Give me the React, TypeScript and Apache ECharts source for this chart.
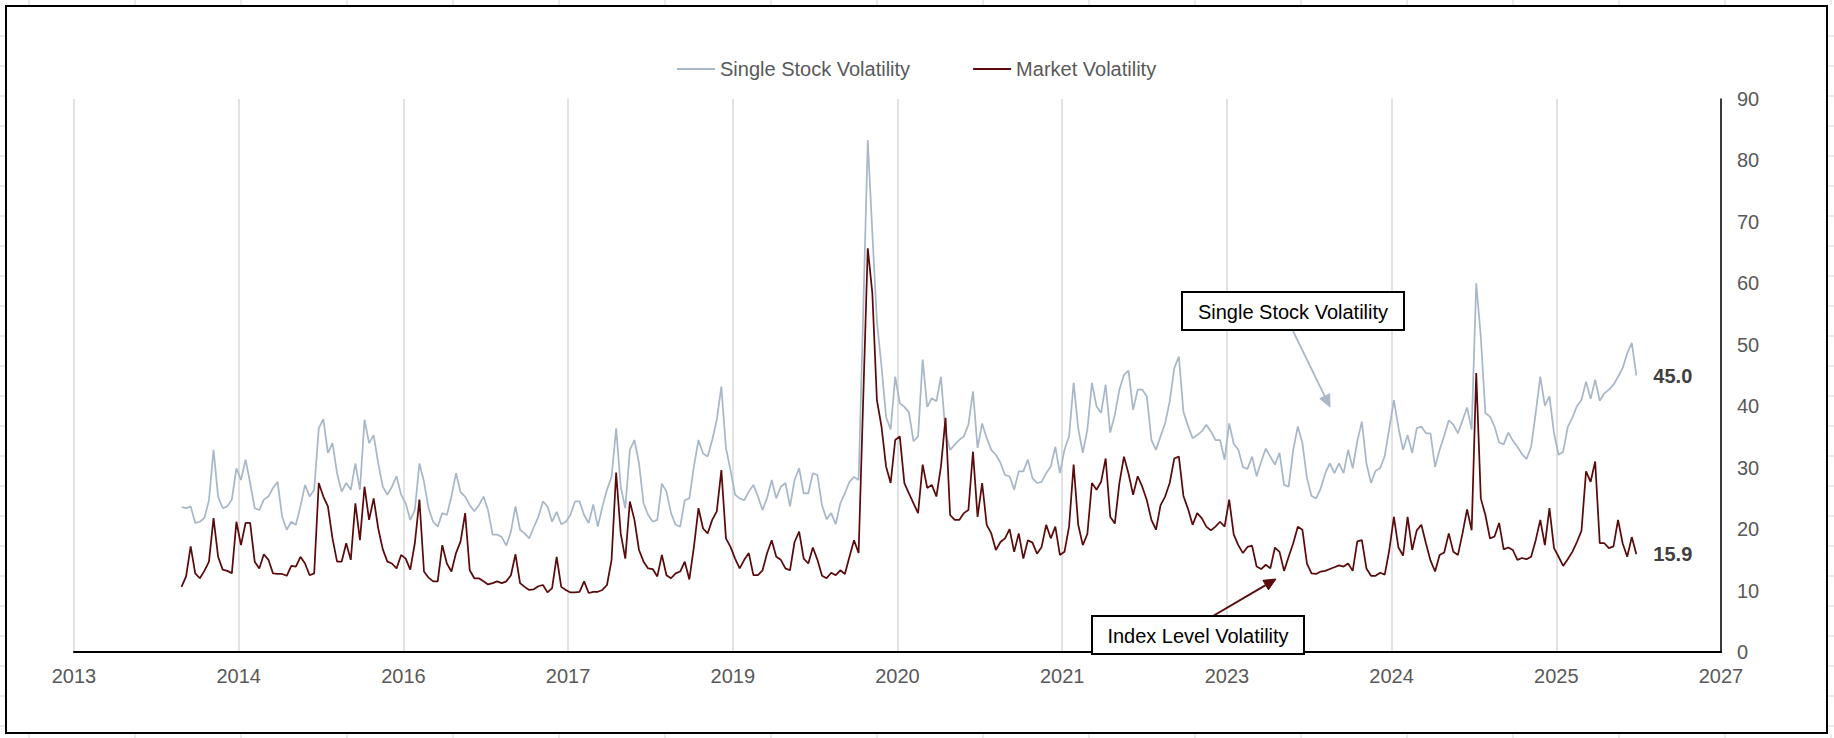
import React, { useEffect, useRef } from "react";
import * as echarts from "echarts";

// X axis: days from axis origin; one major unit = 504 days, labels as shown.
const X_TICK_LABELS = ["2013", "2014", "2016", "2017", "2019", "2020", "2021", "2023", "2024", "2025", "2027"];
const TICK_DAYS = 504;
const FIRST_DAY = 329;
const STEP_DAYS = 14;

const Y_MIN = 0;
const Y_MAX = 90;
const Y_STEP = 10;

const SERIES_NAMES = ["Single Stock Volatility", "Market Volatility"];

const SINGLE_STOCK_VOL = [
  23.6, 23.4, 23.7, 21.0, 21.2, 21.8, 24.7, 32.9, 25.3, 23.4,
  23.7, 24.8, 29.9, 28.0, 31.3, 27.5, 23.4, 23.1, 24.8, 25.3,
  26.7, 27.7, 22.0, 19.9, 21.2, 20.7, 23.7, 27.2, 25.3, 26.4,
  36.4, 37.9, 32.4, 34.0, 29.1, 26.1, 27.5, 26.4, 30.7, 26.4,
  37.8, 34.0, 35.3, 30.7, 26.9, 25.6, 26.9, 28.6, 25.6, 24.2,
  21.5, 23.1, 30.7, 27.7, 23.4, 21.2, 20.4, 22.6, 22.3, 25.3,
  29.1, 26.0, 25.3, 23.9, 22.9, 23.9, 25.3, 23.1, 19.1, 19.1,
  18.7, 17.3, 19.6, 23.7, 19.9, 19.3, 18.5, 20.3, 22.0, 24.5,
  23.7, 21.2, 22.8, 20.8, 21.2, 22.3, 24.5, 24.5, 22.3, 21.0,
  24.0, 20.4, 23.7, 26.4, 28.5, 36.4, 26.9, 23.4, 32.9, 34.5,
  30.7, 24.2, 22.3, 21.2, 21.5, 27.4, 26.1, 22.6, 20.7, 20.4,
  24.7, 25.0, 30.2, 34.5, 32.3, 31.8, 34.5, 37.8, 43.2, 33.2,
  29.6, 25.6, 25.0, 24.7, 26.1, 27.2, 25.3, 23.1, 25.1, 28.0,
  25.0, 26.9, 27.5, 23.7, 28.0, 29.9, 25.8, 25.8, 29.1, 28.8,
  23.9, 21.6, 22.6, 20.8, 24.2, 25.8, 27.7, 28.5, 28.0, 55.1,
  83.3, 68.2, 53.8, 46.5, 38.3, 36.2, 44.8, 40.5, 39.9, 39.0,
  34.3, 35.1, 47.6, 39.9, 41.3, 40.8, 44.8, 35.6, 32.9, 33.7,
  34.5, 35.1, 37.0, 42.4, 33.2, 37.2, 34.8, 32.9, 32.1, 30.8,
  28.8, 28.6, 26.4, 29.4, 29.4, 31.3, 28.3, 27.5, 27.7, 29.1,
  30.2, 33.4, 29.1, 32.9, 35.1, 43.8, 36.4, 32.4, 36.2, 43.8,
  40.0, 38.9, 43.5, 35.7, 38.6, 42.7, 45.1, 45.8, 39.4, 42.7,
  42.7, 41.6, 34.5, 32.9, 35.1, 37.2, 40.8, 46.2, 48.1, 39.1,
  36.8, 34.8, 35.3, 35.9, 37.0, 35.9, 34.5, 34.5, 31.3, 37.2,
  33.9, 32.9, 30.1, 29.8, 31.8, 28.6, 31.0, 33.1, 31.8, 30.5,
  32.4, 27.2, 26.9, 32.9, 36.7, 34.0, 28.3, 25.4, 25.0, 26.6,
  29.1, 30.7, 29.1, 30.7, 29.1, 32.9, 29.9, 34.3, 37.5, 30.7,
  27.5, 29.5, 29.9, 31.9, 36.4, 41.0, 36.5, 32.9, 35.3, 32.4,
  36.4, 36.7, 35.6, 35.6, 30.1, 32.9, 35.2, 37.7, 37.0, 35.6,
  37.7, 39.8, 36.2, 60.0, 51.3, 38.9, 38.3, 36.7, 34.1, 33.8,
  35.7, 34.4, 33.4, 32.2, 31.4, 33.4, 38.9, 44.8, 40.1, 41.6,
  35.6, 32.1, 32.6, 36.6, 38.1, 40.0, 41.0, 44.0, 41.2, 44.3,
  40.9, 42.1, 42.7, 43.5, 44.8, 46.2, 48.6, 50.3, 45.0,
];

const MARKET_VOL = [
  10.6, 12.3, 17.2, 12.8, 12.0, 13.2, 14.7, 21.8, 15.5, 13.4,
  13.2, 12.8, 21.2, 17.4, 21.0, 21.0, 14.7, 13.6, 15.9, 15.0,
  12.8, 12.7, 12.7, 12.4, 14.0, 13.9, 15.5, 14.4, 12.5, 12.8,
  27.5, 25.3, 23.7, 18.5, 14.7, 14.7, 17.7, 15.0, 24.2, 18.2,
  26.9, 21.5, 25.0, 20.1, 16.7, 14.7, 14.4, 13.6, 15.8, 15.2,
  13.4, 17.7, 24.8, 13.1, 12.1, 11.5, 11.5, 17.4, 14.4, 13.1,
  16.1, 18.0, 22.6, 13.3, 12.0, 12.0, 11.5, 11.0, 11.2, 11.5,
  11.2, 11.5, 12.5, 15.9, 11.2, 10.6, 10.1, 10.2, 10.7, 10.9,
  9.7, 10.4, 15.5, 10.6, 10.1, 9.7, 9.7, 9.8, 11.5, 9.6,
  9.8, 9.8, 10.1, 10.9, 15.0, 29.2, 19.3, 15.2, 24.5, 21.5,
  16.6, 14.7, 13.6, 13.5, 12.3, 15.8, 12.5, 12.0, 12.8, 13.1,
  14.7, 11.8, 17.1, 23.4, 20.1, 19.3, 21.5, 22.9, 29.6, 18.5,
  17.1, 15.2, 13.6, 15.0, 16.1, 12.5, 12.5, 13.3, 16.1, 18.2,
  15.5, 15.0, 13.6, 13.3, 17.9, 19.6, 15.2, 14.4, 17.0, 15.0,
  12.4, 12.0, 12.9, 12.5, 13.3, 12.7, 15.5, 18.2, 16.1, 41.0,
  65.7, 58.4, 41.0, 36.7, 30.2, 27.5, 34.5, 35.1, 27.5, 25.8,
  24.2, 22.6, 30.5, 26.7, 27.2, 25.3, 30.2, 38.1, 22.3, 21.5,
  21.5, 22.6, 23.1, 32.6, 22.0, 27.5, 20.7, 19.3, 16.6, 17.9,
  18.5, 20.0, 16.3, 19.3, 15.2, 18.2, 17.8, 16.0, 17.1, 20.7,
  18.5, 20.4, 15.8, 16.3, 20.4, 30.5, 20.7, 17.4, 19.2, 27.5,
  26.4, 27.7, 31.5, 22.0, 20.9, 27.5, 31.8, 29.0, 25.6, 28.6,
  26.9, 24.7, 21.5, 19.9, 23.9, 25.3, 27.5, 31.5, 31.8, 25.4,
  23.3, 20.7, 22.6, 21.8, 20.4, 19.8, 20.4, 21.2, 20.4, 24.8,
  19.1, 17.4, 16.1, 17.1, 17.3, 13.9, 13.5, 14.2, 13.6, 17.0,
  16.3, 13.2, 15.5, 17.7, 20.4, 19.9, 14.4, 12.8, 12.7, 13.1,
  13.2, 13.5, 13.8, 14.1, 13.9, 14.4, 13.2, 18.0, 18.2, 13.6,
  12.4, 12.4, 12.9, 12.6, 16.6, 22.0, 17.0, 15.7, 22.0, 16.6,
  19.8, 20.7, 17.7, 14.9, 13.1, 15.8, 16.2, 19.3, 16.3, 15.8,
  19.3, 23.2, 19.8, 45.4, 25.0, 22.3, 18.5, 18.8, 21.0, 16.7,
  17.0, 16.6, 15.0, 15.3, 15.1, 15.5, 18.2, 21.5, 17.4, 23.4,
  16.9, 15.5, 14.0, 15.1, 16.3, 17.9, 19.7, 29.4, 27.7, 31.0,
  17.7, 17.7, 16.9, 17.2, 21.5, 17.7, 15.5, 18.7, 15.9,
];

const SSV_COLOR = "#a8b8c9";
const MV_COLOR = "#5a0b0b";
const FONT = '"Liberation Sans", Arial, Helvetica, sans-serif';

function toPairs(values: number[]): [number, number][] {
  return values.map((v, i) => [FIRST_DAY + i * STEP_DAYS, v]);
}

function arrow(x1: number, y1: number, x2: number, y2: number, color: string, width: number, headLen: number, headHalf: number) {
  const dx = x2 - x1;
  const dy = y2 - y1;
  const len = Math.sqrt(dx * dx + dy * dy);
  const ux = dx / len;
  const uy = dy / len;
  const bx = x2 - ux * headLen;
  const by = y2 - uy * headLen;
  const px = -uy * headHalf;
  const py = ux * headHalf;
  return [
    { type: "line", z: 110, silent: true, shape: { x1, y1, x2: bx, y2: by }, style: { stroke: color, lineWidth: width } },
    {
      type: "polygon",
      z: 110,
      silent: true,
      shape: { points: [[x2, y2], [bx + px, by + py], [bx - px, by - py]] },
      style: { fill: color, stroke: color, lineWidth: 1 },
    },
  ];
}

function labelBox(x: number, y: number, w: number, h: number, text: string) {
  return {
    type: "group",
    z: 120,
    silent: true,
    children: [
      { type: "rect", z: 120, shape: { x, y, width: w, height: h }, style: { fill: "#ffffff", stroke: "#000000", lineWidth: 2 } },
      {
        type: "text",
        z: 121,
        style: {
          x: x + w / 2,
          y: y + h / 2 + 1,
          text,
          fill: "#000000",
          font: `20px ${FONT}`,
          align: "center",
          verticalAlign: "middle",
        },
      },
    ],
  };
}

function sheetGridStubs() {
  const items: any[] = [];
  const c = "#d6d6d6";
  for (let x = 29; x < 1834; x += 106) {
    items.push({ type: "line", silent: true, shape: { x1: x, y1: 0, x2: x, y2: 5 }, style: { stroke: c, lineWidth: 1 } });
    items.push({ type: "line", silent: true, shape: { x1: x, y1: 734, x2: x, y2: 738 }, style: { stroke: c, lineWidth: 1 } });
  }
  for (let y = 36; y < 738; y += 30) {
    items.push({ type: "line", silent: true, shape: { x1: 0, y1: y, x2: 5, y2: y }, style: { stroke: c, lineWidth: 1 } });
    items.push({ type: "line", silent: true, shape: { x1: 1828, y1: y, x2: 1834, y2: y }, style: { stroke: c, lineWidth: 1 } });
  }
  return items;
}

export default function App() {
  const ref = useRef<HTMLDivElement>(null);

  useEffect(() => {
    if (!ref.current) return;
    const chart = echarts.init(ref.current, null, { renderer: "svg" });

    const endLabel = {
      show: true,
      distance: 17,
      color: "#404040",
      fontSize: 20,
      fontWeight: "bold",
      fontFamily: FONT,
      formatter: (p: any) => Number(p.value[1]).toFixed(1),
    };

    const option: any = {
      animation: false,
      backgroundColor: "#ffffff",
      textStyle: { fontFamily: FONT },
      grid: { left: 74, right: 113, top: 99, bottom: 86, containLabel: false, outerBoundsMode: "none" },
      legend: {
        data: SERIES_NAMES,
        left: 672,
        top: 54,
        icon: "rect",
        itemWidth: 38,
        itemHeight: 2,
        itemGap: 63,
        textStyle: { color: "#595959", fontSize: 20, fontFamily: FONT },
      },
      xAxis: {
        type: "value",
        min: 0,
        max: TICK_DAYS * (X_TICK_LABELS.length - 1),
        interval: TICK_DAYS,
        axisLine: { show: true, onZero: false, lineStyle: { color: "#000000", width: 2 } },
        axisTick: { show: false },
        splitLine: { show: true, lineStyle: { color: "#d9d9d9", width: 1.5 } },
        axisLabel: {
          formatter: (v: number) => X_TICK_LABELS[Math.round(v / TICK_DAYS)] ?? "",
          color: "#595959",
          fontSize: 20,
          margin: 14,
          showMinLabel: true,
          showMaxLabel: true,
        },
      },
      yAxis: {
        type: "value",
        position: "right",
        min: Y_MIN,
        max: Y_MAX,
        interval: Y_STEP,
        axisLine: { show: true, onZero: false, lineStyle: { color: "#000000", width: 1.5 } },
        axisTick: { show: false },
        splitLine: { show: false },
        axisLabel: { color: "#595959", fontSize: 20, margin: 16, align: "left" },
      },
      series: [
        {
          name: SERIES_NAMES[0],
          type: "line",
          data: toPairs(SINGLE_STOCK_VOL),
          showSymbol: false,
          symbol: "none",
          lineStyle: { color: SSV_COLOR, width: 1.75 },
          itemStyle: { color: SSV_COLOR },
          endLabel,
          z: 2,
        },
        {
          name: SERIES_NAMES[1],
          type: "line",
          data: toPairs(MARKET_VOL),
          showSymbol: false,
          symbol: "none",
          lineStyle: { color: MV_COLOR, width: 1.75 },
          itemStyle: { color: MV_COLOR },
          endLabel,
          z: 3,
        },
      ],
      graphic: [
        ...sheetGridStubs(),
        {
          type: "rect",
          silent: true,
          z: 100,
          shape: { x: 6, y: 6, width: 1821, height: 727 },
          style: { fill: "none", stroke: "#000000", lineWidth: 2 },
        },
        ...arrow(1293, 331, 1330, 407, SSV_COLOR, 1.75, 12, 5.5),
        ...arrow(1213, 616, 1276, 579, MV_COLOR, 2, 12, 5.5),
        labelBox(1182, 292, 222, 38, "Single Stock Volatility"),
        labelBox(1092, 616, 212, 38, "Index Level Volatility"),
      ],
    };

    chart.setOption(option);
    return () => chart.dispose();
  }, []);

  return (
    <div
      ref={ref}
      style={{ position: "fixed", left: 0, top: 0, width: 1834, height: 738, background: "#ffffff" }}
    />
  );
}
